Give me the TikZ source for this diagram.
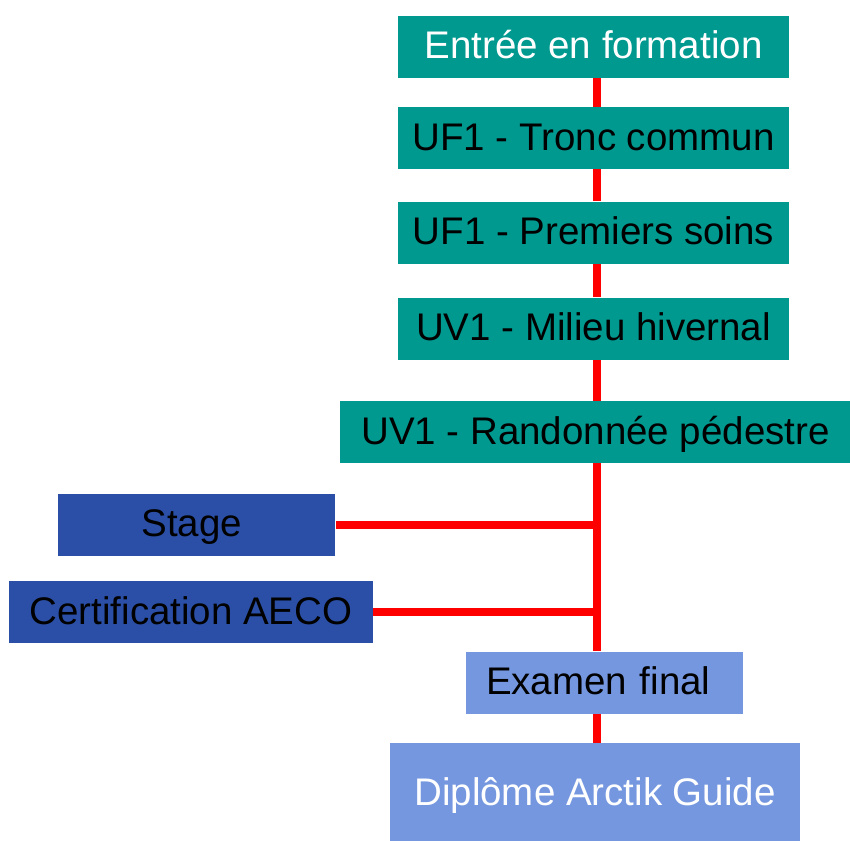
\documentclass[tikz,border=0pt]{standalone}
\usepackage{fontspec}
\setmainfont{Liberation Sans}
\usepackage{tikz}
\usepackage{xcolor}

\definecolor{petrol}{RGB}{0,153,144}
\definecolor{dunkelblau}{RGB}{43,79,166}
\definecolor{hellblau}{RGB}{117,151,223}

\begin{document}
\begin{tikzpicture}
    % Pixelgröße
    \def\s{0.02cm}

    \tikzset{
        kasten/.style={minimum height=62*\s, inner sep=0pt, text height=15.7pt, text depth=1.5pt,
            font=\fontsize{21.9}{26}\selectfont},
        linie/.style={red, line width=8*\s},
    }

    \useasboundingbox (0,0) rectangle (850*\s, -840*\s);

    % Achse der roten Linie
    \coordinate (achse) at (597*\s, 0);

    % Module
    \node[kasten, fill=petrol, text=white, minimum width=391*\s] (entree) at (593.5*\s, -46.5*\s) {Entrée en formation};
    \foreach \name/\y/\txt in {tronc/138/UF1 - Tronc commun, soins/232.5/UF1 - Premiers soins, milieu/328.5/UV1 - Milieu hivernal} {
        \node[kasten, fill=petrol, minimum width=391*\s] (\name) at (593.5*\s, -\y*\s) {\txt};
    }
    \node[kasten, fill=petrol, minimum width=511*\s] (rando) at (595.5*\s, -432*\s) {UV1 - Randonnée pédestre};

    % Seitliche Kästen
    \node[kasten, fill=dunkelblau, text width=2.2cm, align=left, inner xsep=1.68cm] (stage) at (196.5*\s, -524.5*\s) {Stage};
    \node[kasten, fill=dunkelblau, minimum width=364*\s] (cert) at (191*\s, -612*\s) {Certification AECO};

    % Abschluss
    \node[kasten, fill=hellblau, text width=4.74cm, align=left, inner xsep=0.4cm] (examen) at (604.5*\s, -682.5*\s) {Examen final};
    \node[kasten, fill=hellblau, text=white, minimum width=410*\s, minimum height=100*\s] (diplom) at (595*\s, -793*\s) {Diplôme Arctik Guide};

    % Verbindungen
    \foreach \a/\b in {entree/tronc, tronc/soins, soins/milieu, milieu/rando, rando/examen, examen/diplom} {
        \draw[linie] (\a.south -| achse) -- (\b.north -| achse);
    }
    \foreach \n in {stage, cert} {
        \draw[linie] (\n.east) -- (\n.east -| achse);
    }
\end{tikzpicture}
\end{document}
